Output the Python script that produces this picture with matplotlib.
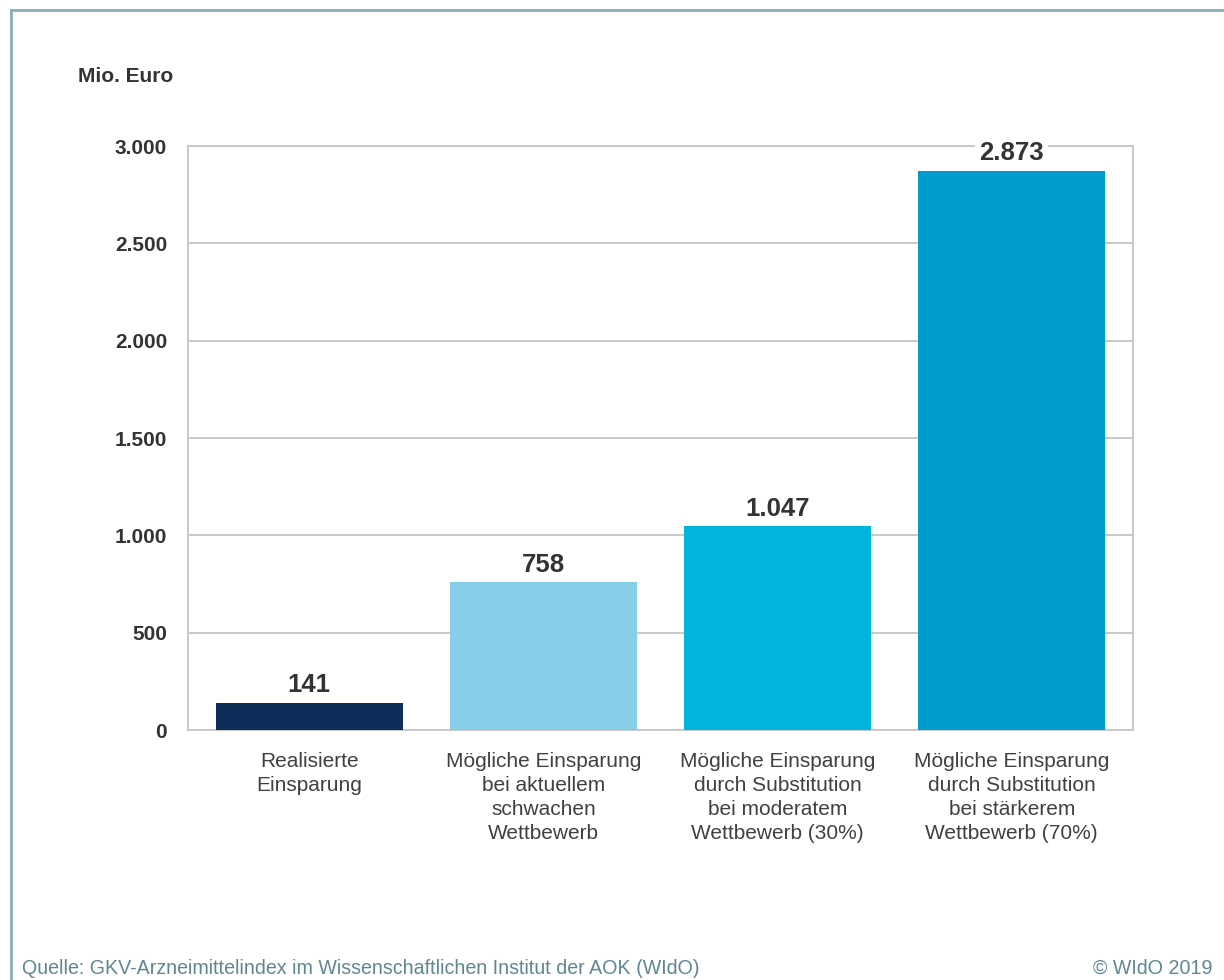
import matplotlib.pyplot as plt
from matplotlib.lines import Line2D

plt.rcParams['font.family'] = ['Liberation Sans', 'DejaVu Sans']

# data
categories = [
    "Realisierte\nEinsparung",
    "Mögliche Einsparung\nbei aktuellem\nschwachen\nWettbewerb",
    "Mögliche Einsparung\ndurch Substitution\nbei moderatem\nWettbewerb (30%)",
    "Mögliche Einsparung\ndurch Substitution\nbei stärkerem\nWettbewerb (70%)",
]
values = [141, 758, 1047, 2873]
colors = ["#0b2d57", "#87cee9", "#00b4dc", "#009ccc"]
yticks = [0, 500, 1000, 1500, 2000, 2500, 3000]


def de_fmt(v):
    return f"{v:,.0f}".replace(",", ".")


fig = plt.figure(figsize=(12.24, 9.8), dpi=100)
ax = fig.add_axes([188 / 1224, 1 - 730 / 980, (1133 - 188) / 1224, (730 - 146) / 980])

x = list(range(len(values)))
bars = ax.bar(x, values, width=0.797, color=colors, zorder=3)

ax.set_xlim(-0.518, 3.518)
ax.set_ylim(0, 3000)
ax.set_yticks(yticks)
ax.set_yticklabels([de_fmt(v) for v in yticks], fontsize=15, fontweight='bold', color='#333333')
ax.set_xticks(x)
ax.set_xticklabels(categories, fontsize=15, color='#404040', linespacing=1.32)
ax.tick_params(axis='both', length=0)
ax.tick_params(axis='y', pad=15)
ax.tick_params(axis='x', pad=16)

ax.grid(axis='y', color='#c8c8c8', linewidth=1.4, zorder=0)
for s in ax.spines.values():
    s.set_color('#c8c8c8')
    s.set_linewidth(1.4)

for i, v in enumerate(values):
    ax.annotate(de_fmt(v), (x[i], v), xytext=(0, 4), textcoords='offset points',
                ha='center', va='bottom', fontsize=18.5, fontweight='bold', color='#333333',
                bbox=dict(facecolor='white', edgecolor='none', pad=3), zorder=5,
                annotation_clip=False)

fig.text(173 / 1224, 1 - 77 / 980, "Mio. Euro", ha='right', va='center',
         fontsize=15, fontweight='bold', color='#333333')

fig.text(22 / 1224, 1 - 968 / 980, "Quelle: GKV-Arzneimittelindex im Wissenschaftlichen Institut der AOK (WIdO)",
         ha='left', va='center', fontsize=14.1, color='#5f8792')
fig.text(1212 / 1224, 1 - 968 / 980, "© WIdO 2019", ha='right', va='center',
         fontsize=14.1, color='#5f8792')

# frame lines
fig.add_artist(Line2D([11 / 1224, 11 / 1224], [0, 1 - 10 / 980], transform=fig.transFigure,
                      color='#86aebb', linewidth=2))
fig.add_artist(Line2D([11 / 1224, 1], [1 - 10 / 980, 1 - 10 / 980], transform=fig.transFigure,
                      color='#86aebb', linewidth=2))

fig.savefig("out.png", dpi=100)
